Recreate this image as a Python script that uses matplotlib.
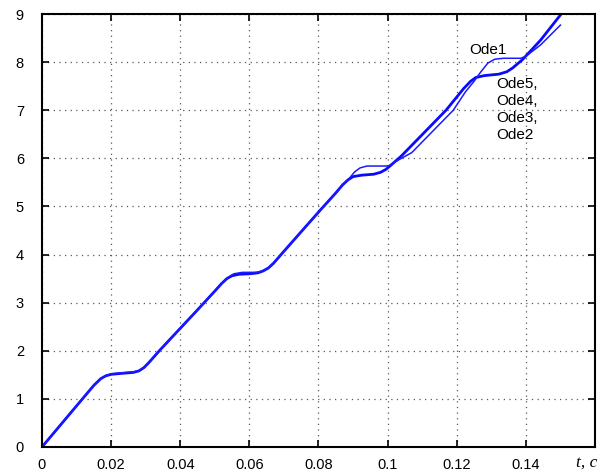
import numpy as np
import matplotlib.pyplot as plt

# time axis and responses (t in seconds)
t_main = [0, 0.011, 0.015, 0.017, 0.0185, 0.020, 0.023, 0.0264, 0.028, 0.0295,
          0.031, 0.0342, 0.045, 0.050, 0.052, 0.0535, 0.055, 0.057, 0.060,
          0.0625, 0.064, 0.0655, 0.067, 0.0704, 0.0806, 0.085, 0.087, 0.0885,
          0.090, 0.0925, 0.096, 0.098, 0.0995, 0.101, 0.104, 0.1169, 0.122,
          0.124, 0.1255, 0.128, 0.1322, 0.1345, 0.1362, 0.139, 0.1443, 0.150]
ode2_5 = [0, 0.94, 1.28, 1.42, 1.48, 1.51, 1.53, 1.55, 1.58, 1.65,
          1.76, 2.02, 2.85, 3.24, 3.40, 3.50, 3.56, 3.59, 3.60,
          3.62, 3.66, 3.72, 3.82, 4.10, 4.93, 5.28, 5.45, 5.55,
          5.62, 5.65, 5.67, 5.71, 5.77, 5.86, 6.05, 7.00, 7.45,
          7.60, 7.68, 7.72, 7.75, 7.80, 7.88, 8.05, 8.46, 8.98]

t_ode1 = [0, 0.011, 0.015, 0.017, 0.0185, 0.020, 0.023, 0.0264, 0.028, 0.0295,
          0.031, 0.0342, 0.045, 0.050, 0.052, 0.0535, 0.0555, 0.058, 0.062,
          0.064, 0.0655, 0.067, 0.0704, 0.0806, 0.085, 0.087, 0.0885, 0.0905,
          0.092, 0.094, 0.0995, 0.1005, 0.102, 0.107, 0.119, 0.1225, 0.125,
          0.127, 0.129, 0.131, 0.1335, 0.1385, 0.140, 0.1443, 0.150]
ode1 = [0, 0.94, 1.28, 1.42, 1.48, 1.52, 1.54, 1.56, 1.58, 1.65,
        1.76, 2.02, 2.85, 3.24, 3.40, 3.51, 3.60, 3.63, 3.63,
        3.66, 3.72, 3.82, 4.10, 4.93, 5.28, 5.45, 5.55, 5.72,
        5.80, 5.84, 5.84, 5.85, 5.92, 6.12, 7.00, 7.38, 7.60,
        7.80, 7.98, 8.06, 8.08, 8.08, 8.12, 8.36, 8.77]

xticks = [0, 0.02, 0.04, 0.06, 0.08, 0.1, 0.12, 0.14, 0.16]
xlabels = ['0', '0.02', '0.04', '0.06', '0.08', '0.1', '0.12', '0.14', '']
yticks = list(range(10))

plt.rcParams['font.family'] = ['Liberation Sans', 'DejaVu Sans']

fig = plt.figure(figsize=(6.06, 4.72), dpi=100)
ax = fig.add_axes([0.0693, 0.053, 0.9125, 0.9173])

ax.plot(t_main, ode2_5, color='#0a0aff', lw=2.0)
ax.plot(t_ode1, ode1, color='#1a1aff', lw=1.1)

ax.set_xlim(0, 0.16)
ax.set_ylim(0, 9)
ax.set_xticks(xticks)
ax.set_xticklabels(xlabels)
ax.set_yticks(yticks)

ax.grid(True, linestyle=(0, (1, 3.5)), color='0.35', lw=0.9)
for s in ax.spines.values():
    s.set_linewidth(1.5)
    s.set_color('black')

ax.tick_params(axis='both', direction='in', top=True, right=True,
               length=5, width=1.2, labelsize=10.5)
ax.tick_params(axis='x', pad=8)
ax.tick_params(axis='y', pad=13)

ax.text(0.1235, 8.17, 'Ode1', fontsize=11)
ax.text(0.1313, 7.7, 'Ode5,\nOde4,\nOde3,\nOde2', fontsize=11,
        va='top', linespacing=1.3)

ax.text(0.1575, -0.15, 't, c', fontsize=12.5, style='italic',
        family=['Liberation Serif', 'DejaVu Serif'], ha='center', va='top')

fig.savefig('out.png', dpi=100)
